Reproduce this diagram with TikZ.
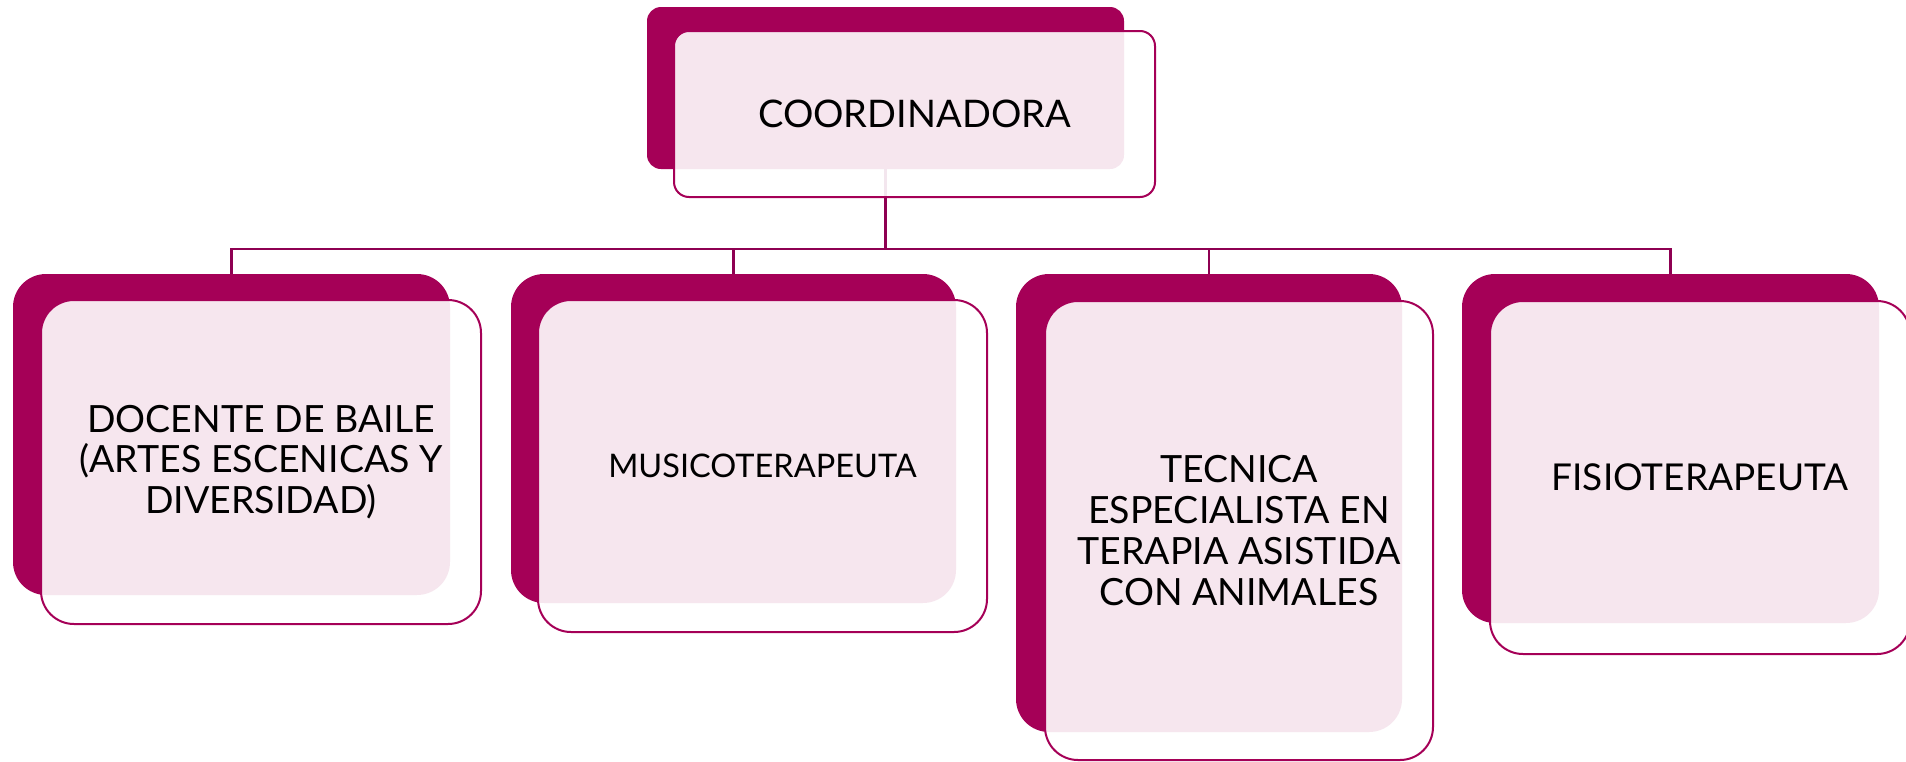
\documentclass[tikz,border=0pt]{standalone}
\usepackage{fontspec}
\setmainfont{Lato}
\newlength{\du}
\setlength{\du}{1pt}
\definecolor{boxcolor}{RGB}{165,0,87}
\definecolor{linkcolor}{RGB}{142,0,82}
\tikzset{
  backbox/.style={rectangle, rounded corners=33\du, fill=boxcolor, inner sep=0pt, outer sep=0pt},
  frontbox/.style={rectangle, rounded corners=33\du, draw=boxcolor, line width=2\du, fill=white,
    fill opacity=0.9, text opacity=1, text=black, align=center, inner sep=0pt, outer sep=0pt},
  link/.style={draw=linkcolor, line width=2.5\du},
}

\begin{document}
\begin{tikzpicture}
\pgftransformxscale{1.000000}
\pgftransformyscale{-1.000000}
\useasboundingbox (0\du,0\du) rectangle (1906\du,761\du);
% back boxes
\node[backbox, rounded corners=14\du, minimum width=477\du, minimum height=162\du] (coordback) at (885.5\du,88\du) {};
\node[backbox, minimum width=437\du, minimum height=321\du] (docback) at (231.5\du,434.5\du) {};
\node[backbox, minimum width=445\du, minimum height=329\du] (musback) at (733.5\du,438.5\du) {};
\node[backbox, minimum width=386\du, minimum height=458\du] (tecback) at (1209\du,503\du) {};
\node[backbox, minimum width=417\du, minimum height=349\du] (fisback) at (1670.5\du,448.5\du) {};
% connectors
\coordinate (hub) at (885.5\du,249\du);
\draw[link] (coordback.south) -- (hub);
\foreach \n in {docback,musback,tecback,fisback}
  \draw[link] (hub) -| (\n.north);
% front boxes
\node[frontbox, rounded corners=15\du, minimum width=481\du, minimum height=166\du,
  font=\fontsize{38}{41}\selectfont] (coord) at (914.5\du,114\du) {COORDINADORA};
\node[frontbox, minimum width=440\du, minimum height=324\du,
  font=\fontsize{37.5}{40.5}\selectfont] (doc) at (261\du,462\du)
  {DOCENTE DE BAILE\\(ARTES ESCENICAS Y\\DIVERSIDAD)};
\node[frontbox, minimum width=449\du, minimum height=332\du,
  font=\fontsize{32.5}{36}\selectfont] (mus) at (762.5\du,466\du) {MUSICOTERAPEUTA};
\node[frontbox, minimum width=388\du, minimum height=459\du,
  font=\fontsize{37.5}{41}\selectfont] (tec) at (1239\du,530.5\du)
  {TECNICA\\ESPECIALISTA EN\\TERAPIA ASISTIDA\\CON ANIMALES};
\node[frontbox, minimum width=420\du, minimum height=353\du,
  font=\fontsize{37}{41}\selectfont] (fis) at (1700\du,477.5\du) {FISIOTERAPEUTA};
\end{tikzpicture}
\end{document}
